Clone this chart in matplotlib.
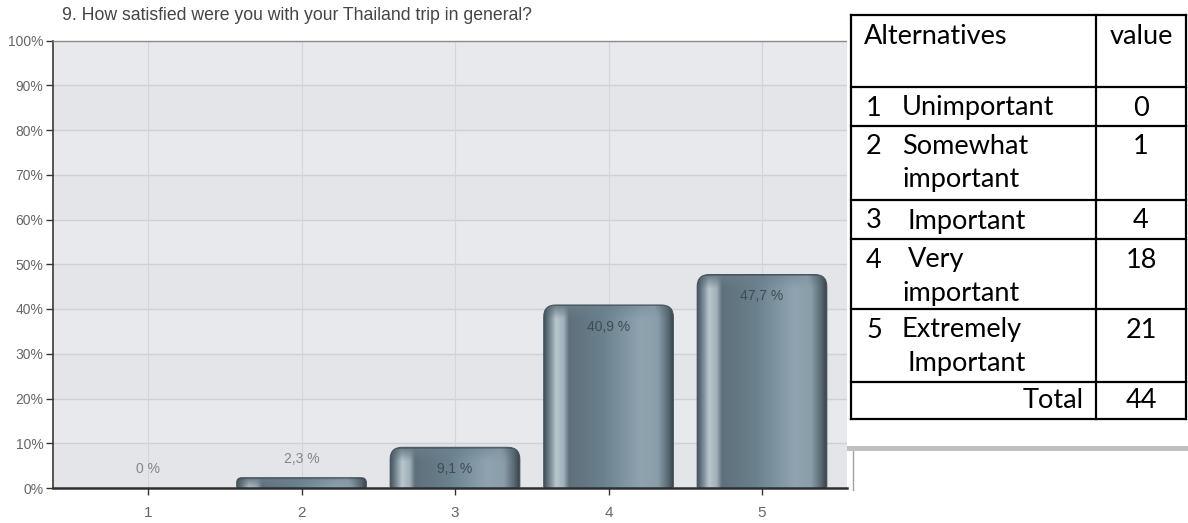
import numpy as np
import matplotlib
matplotlib.use("Agg")
import matplotlib.pyplot as plt
from matplotlib.patches import FancyBboxPatch, Rectangle
from matplotlib.colors import to_rgb

# ---------------- data ----------------
title = "9. How satisfied were you with your Thailand trip in general?"
categories = ["1", "2", "3", "4", "5"]
percent = [0.0, 2.3, 9.1, 40.9, 47.7]
percent_labels = ["0 %", "2,3 %", "9,1 %", "40,9 %", "47,7 %"]
y_ticks = [0, 10, 20, 30, 40, 50, 60, 70, 80, 90, 100]
y_tick_labels = ["0%", "10%", "20%", "30%", "40%", "50%", "60%", "70%", "80%", "90%", "100%"]

table_header = ["Alternatives", "value"]
alt_numbers = ["1", "2", "3", "4", "5"]
alt_line1 = ["Unimportant", "Somewhat", "Important", "Very", "Extremely"]
alt_line2 = ["", "important", "", "important", "Important"]
alt_values = ["0", "1", "4", "18", "21"]
total_label = "Total"
total_value = "44"

CHARTFONT = ["Liberation Sans", "DejaVu Sans"]
TABLEFONT = ["Lato", "DejaVu Sans"]

W, H = 1188, 523
fig = plt.figure(figsize=(W / 100, H / 100), dpi=100)
fig.patch.set_facecolor("white")

# axes in pixel geometry
ax_left, ax_right, ax_top, ax_bottom = 53, 847, 40.5, 488
ax = fig.add_axes([ax_left / W, 1 - ax_bottom / H, (ax_right - ax_left) / W, (ax_bottom - ax_top) / H])

x = np.arange(1, len(categories) + 1)
spacing_px = 153.5
xl0 = 1 - (148 - ax_left) / spacing_px
xl1 = 1 + (ax_right - 148) / spacing_px
ax.set_xlim(xl0, xl1)
ax.set_ylim(0, 100)

ax.set_facecolor("#e3e5e8")
for k in range(1, 10, 2):
    ax.axhspan(y_ticks[k], y_ticks[k + 1], color="#e7e9ec", zorder=0, lw=0)
for yv in y_ticks[1:-1]:
    ax.axhline(yv, color="#cdd0d4", lw=1.0, zorder=1)
for xv in x:
    ax.axvline(xv, color="#d2d5d9", lw=0.8, zorder=1)

bar_width = 0.845
bars = ax.bar(x, percent, width=bar_width, color="none", zorder=2)

# pixel scales
px_x = (xl1 - xl0) / (ax_right - ax_left)
px_y = 100 / (ax_bottom - ax_top)

stops = [(0.00, "#465460"), (0.04, "#738590"), (0.09, "#b9c6cd"), (0.15, "#a0b0b9"),
         (0.19, "#5e707b"), (0.45, "#6a808d"), (0.75, "#8fa4b0"), (0.88, "#8a9eaa"),
         (0.96, "#586872"), (1.00, "#38434a")]
cap_stops = [(0.00, "#4a5862"), (0.08, "#687a85"), (0.5, "#6c818e"), (0.85, "#8298a4"),
             (0.96, "#54636d"), (1.00, "#38434a")]


def profile(st, n):
    t = np.linspace(0, 1, n)
    pos = [s[0] for s in st]
    cols = np.array([to_rgb(s[1]) for s in st])
    return np.stack([np.interp(t, pos, cols[:, c]) for c in range(3)], axis=1)


for rect, val in zip(bars, percent):
    if val <= 0:
        continue
    x0, w, h = rect.get_x(), rect.get_width(), rect.get_height()
    wp = int(round(w / px_x))
    hp = max(int(round(h / px_y)), 2)
    r_px = min(12.0, hp * 0.5)
    rx = r_px * px_x
    ry = r_px * px_y
    patch = FancyBboxPatch((x0, -ry), w, h + ry,
                           boxstyle=f"round,pad=0,rounding_size={rx}",
                           mutation_aspect=ry / rx, transform=ax.transData,
                           facecolor="none", edgecolor="#44515a", lw=0.7, zorder=3)
    base = profile(stops, wp)
    cap = profile(cap_stops, wp)
    img = np.repeat(base[None, :, :], hp, axis=0)
    cap_h = min(14, hp)
    for i in range(cap_h):
        wgt = 1 - i / cap_h
        img[i] = img[i] * (1 - wgt) + cap * wgt
    for i in range(min(2, hp)):
        img[i] = img[i] * 0.8
    im = ax.imshow(img, extent=(x0, x0 + w, 0, h), origin="upper", aspect="auto",
                   interpolation="bilinear", zorder=2)
    im.set_clip_path(patch)
    ax.add_patch(patch)

ax.set_xlim(xl0, xl1)
ax.set_ylim(0, 100)
ax.set_aspect("auto")

# value labels
for xi, val, lab in zip(x, percent, percent_labels):
    if val < 6:
        ax.text(xi, val + 4.2, lab, ha="center", va="center", fontsize=10,
                color="#858585", family=CHARTFONT, zorder=4)
    else:
        ax.text(xi, val - 4.9, lab, ha="center", va="center", fontsize=10,
                color="#3e4b54", family=CHARTFONT, zorder=4)

ax.set_xticks(x)
ax.set_xticklabels(categories, family=CHARTFONT, fontsize=11, color="#666666")
ax.set_yticks(y_ticks)
ax.set_yticklabels(y_tick_labels, family=CHARTFONT, fontsize=10, color="#666666")
ax.tick_params(axis="both", direction="out", length=5, width=1, color="#333333")
ax.tick_params(axis="x", pad=8)
ax.tick_params(axis="y", pad=2)
ax.spines["top"].set_color("#8a8a8a")
ax.spines["top"].set_linewidth(1.0)
ax.spines["right"].set_visible(False)
ax.spines["left"].set_color("#3a3a3a")
ax.spines["left"].set_linewidth(1.2)
ax.spines["bottom"].set_color("#2e2e2e")
ax.spines["bottom"].set_linewidth(1.8)

fig.text(62 / W, 1 - 16 / H, title, ha="left", va="center", fontsize=12.7,
         color="#454545", family=CHARTFONT)

# ---------------- table overlay (pixel coordinates) ----------------
tax = fig.add_axes([0, 0, 1, 1], zorder=10)
tax.set_xlim(0, W)
tax.set_ylim(H, 0)
tax.axis("off")
tax.patch.set_alpha(0)

tax.add_patch(Rectangle((847, 0), W - 847, 446, facecolor="white", edgecolor="none"))
tax.add_patch(Rectangle((847, 446), W - 847, 5, facecolor="#c0c0c0", edgecolor="none"))
tax.plot([853, 853], [451, 490], color="#a0a0a0", lw=1.0)

t_left, t_mid, t_right = 851, 1096, 1186
row_y = [15, 87, 126, 200, 239, 309, 382, 419]
lwt = 1.6
for yy in row_y:
    tax.plot([t_left, t_right], [yy, yy], color="black", lw=lwt, solid_capstyle="projecting")
for xx in (t_left, t_mid, t_right):
    tax.plot([xx, xx], [row_y[0], row_y[-1]], color="black", lw=lwt, solid_capstyle="projecting")

fs = 19.5
vcx = (t_mid + t_right) / 2
off1, off2 = 21, 33
tax.text(864, row_y[0] + off1, table_header[0], ha="left", va="center", fontsize=fs, family=TABLEFONT)
tax.text(vcx, row_y[0] + off1, table_header[1], ha="center", va="center", fontsize=fs, family=TABLEFONT)

label_x = [902, 902, 908, 908, 902]
line2_x = [902, 902, 902, 902, 907]
for i in range(5):
    top = row_y[i + 1]
    tax.text(866, top + off1, alt_numbers[i], ha="left", va="center", fontsize=fs, family=TABLEFONT)
    tax.text(label_x[i], top + off1, alt_line1[i], ha="left", va="center", fontsize=fs, family=TABLEFONT)
    if alt_line2[i]:
        tax.text(line2_x[i], top + off1 + off2, alt_line2[i], ha="left", va="center", fontsize=fs, family=TABLEFONT)
    tax.text(vcx, top + off1, alt_values[i], ha="center", va="center", fontsize=fs, family=TABLEFONT)

tax.text(t_mid - 12, row_y[6] + 19, total_label, ha="right", va="center", fontsize=fs, family=TABLEFONT)
tax.text(vcx, row_y[6] + 19, total_value, ha="center", va="center", fontsize=fs, family=TABLEFONT)

fig.savefig("out.png", dpi=100, facecolor="white")
